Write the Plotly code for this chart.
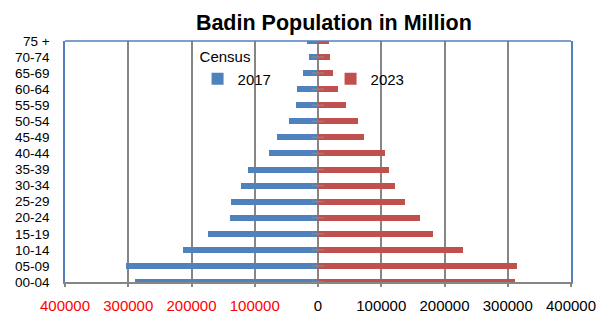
import plotly.graph_objects as go

age_groups = ["00-04", "05-09", "10-14", "15-19", "20-24", "25-29", "30-34", "35-39",
              "40-44", "45-49", "50-54", "55-59", "60-64", "65-69", "70-74", "75 +"]
pop_2017 = [289000, 304000, 213000, 174000, 139500, 137000, 122500, 110500,
            77000, 65000, 46000, 34500, 32500, 23000, 15000, 17500]
pop_2023 = [312000, 315000, 230000, 182000, 161500, 138000, 121500, 113000,
            106000, 72500, 63500, 43500, 31500, 24000, 18800, 16600]
x_ticks = [-400000, -300000, -200000, -100000, 0, 100000, 200000, 300000, 400000]

BLUE = "#4F81BD"
RED = "#C0504D"
GRID = "#868686"
FONT = "Liberation Sans, Arial, sans-serif"

pos = list(range(len(age_groups)))

tick_text = []
for v in x_ticks:
    if v < 0:
        tick_text.append('<span style="color:#FF0000">%d</span>' % abs(v))
    else:
        tick_text.append(str(v))

fig = go.Figure()
fig.add_trace(go.Bar(y=pos, x=[-v for v in pop_2017], orientation="h", name="2017",
                     marker=dict(color=BLUE, line=dict(width=0)), width=0.375))
fig.add_trace(go.Bar(y=pos, x=pop_2023, orientation="h", name="2023",
                     marker=dict(color=RED, line=dict(width=0)), width=0.375))
# category tick marks crossing the zero axis
fig.add_trace(go.Scatter(y=pos, x=[0] * len(pos), mode="markers", showlegend=False,
                         hoverinfo="skip",
                         marker=dict(symbol="line-ew", size=9,
                                     line=dict(color=GRID, width=1.5))))

fig.update_layout(
    width=607, height=317,
    margin=dict(l=65, r=36, t=41, b=35),
    paper_bgcolor="white", plot_bgcolor="white",
    barmode="overlay",
    title=dict(text="<b>Badin Population in Million</b>", x=0.55, xanchor="center",
               y=0.9306, yanchor="middle",
               font=dict(family=FONT, size=21.5, color="black")),
    legend=dict(orientation="h", x=0.262, y=0.992, xanchor="left", yanchor="top",
                bgcolor="rgba(0,0,0,0)",
                title=dict(text="Census", side="top",
                           font=dict(family=FONT, size=15, color="black")),
                font=dict(family=FONT, size=15, color="black"),
                entrywidth=88, entrywidthmode="pixels", itemwidth=30,
                tracegroupgap=0),
    showlegend=True,
    bargap=0,
    shapes=[dict(type="line", xref="paper", yref="paper", x0=0, x1=1, y0=1, y1=1,
                 line=dict(color=BLUE, width=1.5), layer="above")],
)
fig.update_xaxes(range=[-400000, 400000], tickvals=x_ticks, ticktext=tick_text,
                 showgrid=True, gridcolor=GRID, gridwidth=1.5,
                 zeroline=True, zerolinecolor=GRID, zerolinewidth=1.5,
                 showline=True, linecolor=GRID, linewidth=2,
                 ticks="outside", ticklen=3, tickcolor=GRID, tickwidth=1.5,
                 ticklabelstandoff=6, automargin=False,
                 tickfont=dict(family=FONT, size=15, color="black"),
                 fixedrange=True)
fig.update_yaxes(range=[0, 15], tickvals=pos, ticktext=age_groups,
                 showgrid=False, zeroline=False,
                 showline=True, linecolor=BLUE, linewidth=1.5, mirror=True,
                 ticks="", ticklabelstandoff=11, automargin=False,
                 tickfont=dict(family=FONT, size=13.5, color="black"),
                 fixedrange=True)

fig.write_html("out.html", config={"displayModeBar": False},
               post_script="document.body.style.margin='0px';"
                           "document.body.style.overflow='hidden';")
